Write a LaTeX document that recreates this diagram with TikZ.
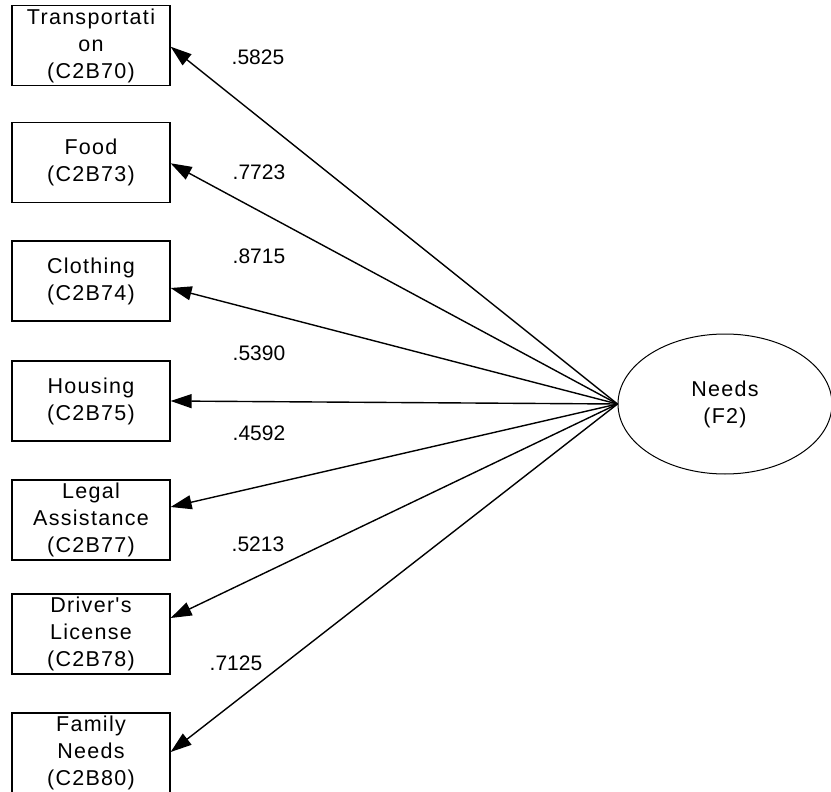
\documentclass[tikz,border=0pt]{standalone}
\usepackage{fontspec}
\setmainfont{Liberation Sans}
\newfontfamily\boxfont[LetterSpace=6]{Liberation Sans}
\usetikzlibrary{arrows.meta,shapes.geometric}

\begin{document}
\begin{tikzpicture}[x=1pt,y=-1pt,
  obs/.style={draw,line width=1.3pt,minimum width=158pt,minimum height=80pt,
    inner sep=0pt,align=center,font=\boxfont\fontsize{21.5}{27}\selectfont},
  lat/.style={draw,ellipse,line width=1pt,minimum width=214pt,minimum height=140pt,
    inner sep=0pt,align=center,font=\boxfont\fontsize{21.5}{27}\selectfont},
  load/.style={line width=1.4pt,-{Triangle[length=21pt,width=14pt]}},
  coef/.style={inner sep=0pt,font=\fontsize{21}{24}\selectfont}]
\useasboundingbox (0,0) rectangle (831,792);

% observed indicators
\node[obs] (b1) at (91,45.7)  {Transportati\\on\\(C2B70)};
\node[obs] (b2) at (91,162.3) {Food\\(C2B73)};
\node[obs] (b3) at (91,281)   {Clothing\\(C2B74)};
\node[obs] (b4) at (91,401)   {Housing\\(C2B75)};
\node[obs] (b5) at (91,520)   {Legal\\Assistance\\(C2B77)};
\node[obs] (b6) at (91,634)   {Driver's\\License\\(C2B78)};
\node[obs] (b7) at (91,753)   {Family\\Needs\\(C2B80)};

% latent factor
\node[lat] (f) at (725,404) {Needs\\(F2)};

% loadings
\draw[load] (f.west) -- ([yshift=-1pt]b1.east);
\draw[load] (f.west) -- ([yshift=-1pt]b2.east);
\draw[load] (f.west) -- ([yshift=-7pt]b3.east);
\draw[load] (f.west) -- (b4.east);
\draw[load] (f.west) -- ([yshift=13pt]b5.east);
\draw[load] (f.west) -- ([yshift=16pt]b6.east);
\draw[load] (f.west) -- ([yshift=1pt]b7.east);

% coefficient labels
\node[coef] (c1) at (258,57)  {.5825};
\node[coef] (c2) at (259,172) {.7723};
\node[coef] (c3) at (259,256) {.8715};
\node[coef] (c4) at (259,353) {.5390};
\node[coef] (c5) at (259,433) {.4592};
\node[coef] (c6) at (258,544) {.5213};
\node[coef] (c7) at (236,663) {.7125};
\end{tikzpicture}
\end{document}
